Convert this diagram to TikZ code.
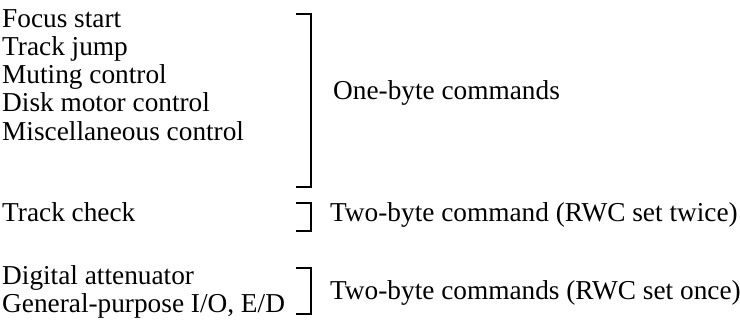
\documentclass[tikz,border=0pt]{standalone}
\usepackage{fontspec}
\setmainfont{Liberation Serif}
\tikzset{
item/.style={anchor=base west, inner sep=0pt, font=\fontsize{27.3}{30}\selectfont},
brace/.style={line width=1.2pt}
}
\begin{document}
\begin{tikzpicture}[x=1pt,y=-1pt]
\useasboundingbox (0,0) rectangle (740,329);
\node[item] (focus) at (2,28) {Focus start};
\node[item] (jump) at (2,56) {Track jump};
\node[item] (mute) at (2,84) {Muting control};
\node[item] (motor) at (2,112) {Disk motor control};
\node[item] (misc) at (2,140) {Miscellaneous control};
\node[item] (check) at (2,222) {Track check};
\node[item] (atten) at (2,284) {Digital attenuator};
\node[item] (gpio) at (2,312) {General-purpose I/O, E/D};
\coordinate (b1t) at (311,14);
\coordinate (b1b) at (311,187);
\coordinate (b2t) at (311,203);
\coordinate (b2b) at (311,231);
\coordinate (b3t) at (311,268);
\coordinate (b3b) at (311,314);
\draw[brace] ([xshift=-15pt]b1t)--(b1t)--(b1b)--([xshift=-15pt]b1b);
\draw[brace] ([xshift=-15pt]b2t)--(b2t)--(b2b)--([xshift=-15pt]b2b);
\draw[brace] ([xshift=-15pt]b3t)--(b3t)--(b3b)--([xshift=-15pt]b3b);
\node[item] (one) at (333,100) {One-byte commands};
\node[item] (twice) at (330,222) {Two-byte command (RWC set twice)};
\node[item] (once) at (330,299) {Two-byte commands (RWC set once)};
\end{tikzpicture}
\end{document}
